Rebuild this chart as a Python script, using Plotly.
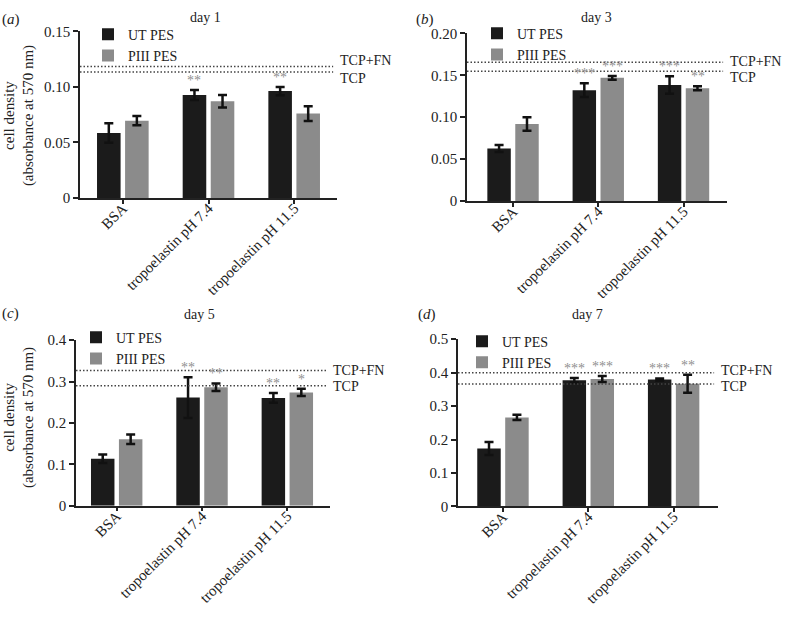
import plotly.graph_objects as go

# ---------------- data ----------------
categories = ["BSA", "tropoelastin pH 7.4", "tropoelastin pH 11.5"]
series_names = ["UT PES", "PIII PES"]
day_titles = ["day 1", "day 3", "day 5", "day 7"]
panel_labels = ["(<i>a</i>)", "(<i>b</i>)", "(<i>c</i>)", "(<i>d</i>)"]

ut_day1 = [0.0585, 0.0927, 0.0962]
ut_err_day1 = [0.0088, 0.0044, 0.0038]
piii_day1 = [0.0696, 0.0871, 0.0760]
piii_err_day1 = [0.0041, 0.0057, 0.0066]

ut_day3 = [0.0627, 0.1323, 0.1385]
ut_err_day3 = [0.0042, 0.0081, 0.0105]
piii_day3 = [0.0920, 0.1470, 0.1346]
piii_err_day3 = [0.0080, 0.0022, 0.0024]

ut_day5 = [0.1137, 0.2612, 0.2604]
ut_err_day5 = [0.0103, 0.0494, 0.0118]
piii_day5 = [0.1608, 0.2863, 0.2737]
piii_err_day5 = [0.0115, 0.0090, 0.0087]

ut_day7 = [0.1730, 0.3770, 0.3797]
ut_err_day7 = [0.0193, 0.0066, 0.0030]
piii_day7 = [0.2660, 0.3807, 0.3670]
piii_err_day7 = [0.0078, 0.0090, 0.0268]

tcp = [0.1134, 0.1547, 0.290, 0.366]
tcp_fn = [0.1184, 0.1655, 0.327, 0.400]

ut_stars = [["", "**", "**"], ["", "***", "***"], ["", "**", "**"], ["", "***", "***"]]
piii_stars = [["", "", ""], ["", "***", "**"], ["", "**", "*"], ["", "***", "**"]]

ytick_vals = [[0, 0.05, 0.10, 0.15], [0, 0.05, 0.10, 0.15, 0.20],
              [0, 0.1, 0.2, 0.3, 0.4], [0, 0.1, 0.2, 0.3, 0.4, 0.5]]
ytick_text = [["0", "0.05", "0.10", "0.15"], ["0", "0.05", "0.10", "0.15", "0.20"],
              ["0", "0.1", "0.2", "0.3", "0.4"], ["0", "0.1", "0.2", "0.3", "0.4", "0.5"]]
y_max = [0.15, 0.20, 0.4, 0.5]

ut_all = [ut_day1, ut_day3, ut_day5, ut_day7]
ut_err_all = [ut_err_day1, ut_err_day3, ut_err_day5, ut_err_day7]
piii_all = [piii_day1, piii_day3, piii_day5, piii_day7]
piii_err_all = [piii_err_day1, piii_err_day3, piii_err_day5, piii_err_day7]

# ---------------- layout geometry ----------------
W, H = 785, 617
FONT = "Liberation Serif, Times New Roman, serif"
UT_COLOR = "#1b1b1b"
PIII_COLOR = "#8b8b8b"
STAR_COLOR = "#8f8f8f"
TEXT_COLOR = "#222222"


def fx(v):
    return v / W


def fy(v):
    return 1 - v / H


# pixel boxes in the target picture: (left, right, top, bottom)
boxes = [(80, 337, 24, 195), (467, 727, 26, 198.3), (76, 330, 341, 511), (458, 718, 340, 511.7)]
x_ranges = [[-0.5, 2.5], [-0.54, 2.51], [-0.477, 2.5], [-0.527, 2.52]]
legend_pos = [(88, 11), (477, 10), (76, 322), (462, 326)]
title_pos = [(205.5, 10), (596.5, 10), (199, 315), (587.5, 315)]
label_pos = [(11, 12), (425, 12), (10, 314), (427, 315)]
ref_label_shift = [(6, -6), (1, -6), (0, -1), (2, -2)]

fig = go.Figure()
annotations = []
shapes = []

for p in range(4):
    sfx = "" if p == 0 else str(p + 1)
    xa, ya = "x" + sfx, "y" + sfx
    leg = "legend" + sfx
    fig.add_trace(go.Bar(
        x=categories, y=ut_all[p], name=series_names[0],
        marker=dict(color=UT_COLOR, line=dict(width=0)),
        error_y=dict(type="data", array=ut_err_all[p], color="#111111", thickness=2.5, width=4.5),
        xaxis=xa, yaxis=ya, legend=leg, offsetgroup="ut"))
    fig.add_trace(go.Bar(
        x=categories, y=piii_all[p], name=series_names[1],
        marker=dict(color=PIII_COLOR, line=dict(width=0)),
        error_y=dict(type="data", array=piii_err_all[p], color="#111111", thickness=2.5, width=4.5),
        xaxis=xa, yaxis=ya, legend=leg, offsetgroup="piii"))

    l, r, t, b = boxes[p]
    fig.update_layout(**{
        "xaxis" + sfx: dict(
            domain=[fx(l), fx(r)], anchor=ya, range=x_ranges[p],
            type="category", categoryorder="array", categoryarray=categories,
            showline=True, linecolor="#222", linewidth=1.5,
            ticks="outside", ticklen=4, tickwidth=1.5, tickcolor="#222",
            tickangle=-45, showgrid=False, zeroline=False,
            ticklabelstandoff=-10,
            tickfont=dict(family=FONT, size=15, color=TEXT_COLOR)),
        "yaxis" + sfx: dict(
            domain=[fy(b), fy(t)], anchor=xa, range=[0, y_max[p]],
            tickvals=ytick_vals[p], ticktext=ytick_text[p],
            showline=True, linecolor="#222", linewidth=1.5,
            ticks="outside", ticklen=5, tickwidth=1.5, tickcolor="#222",
            showgrid=False, zeroline=False,
            tickfont=dict(family=FONT, size=15, color=TEXT_COLOR)),
        leg: dict(
            x=fx(legend_pos[p][0]), y=fy(legend_pos[p][1]),
            xanchor="left", yanchor="top", bgcolor="rgba(0,0,0,0)",
            font=dict(family=FONT, size=14, color=TEXT_COLOR),
            itemwidth=30, tracegroupgap=0, traceorder="normal"),
    })

    # reference lines
    for val in (tcp[p], tcp_fn[p]):
        shapes.append(dict(type="line", xref=xa + " domain", yref=ya,
                           x0=0, x1=0.985, y0=val, y1=val,
                           line=dict(color="#444", width=1.5, dash="1.5px,2px")))
    s_up, s_dn = ref_label_shift[p]
    annotations.append(dict(text="TCP+FN", xref=xa + " domain", yref=ya, x=1, y=tcp_fn[p],
                            xanchor="left", yanchor="middle", xshift=1, yshift=s_up,
                            showarrow=False, font=dict(family=FONT, size=14, color=TEXT_COLOR)))
    annotations.append(dict(text="TCP", xref=xa + " domain", yref=ya, x=1, y=tcp[p],
                            xanchor="left", yanchor="middle", xshift=1, yshift=s_dn,
                            showarrow=False, font=dict(family=FONT, size=14, color=TEXT_COLOR)))

    # significance stars
    for i in range(len(categories)):
        for stars, vals, errs, off in ((ut_stars[p], ut_all[p], ut_err_all[p], -0.164),
                                       (piii_stars[p], piii_all[p], piii_err_all[p], 0.164)):
            if stars[i]:
                annotations.append(dict(text=stars[i], xref=xa, yref=ya, x=i + off,
                                        y=vals[i] + errs[i], xanchor="center", yanchor="bottom",
                                        yshift=0, showarrow=False,
                                        font=dict(family=FONT, size=14, color=STAR_COLOR)))

    # titles and panel labels
    annotations.append(dict(text=day_titles[p], xref="paper", yref="paper",
                            x=fx(title_pos[p][0]), y=fy(title_pos[p][1]),
                            xanchor="center", yanchor="middle", showarrow=False,
                            font=dict(family=FONT, size=14, color=TEXT_COLOR)))
    annotations.append(dict(text=panel_labels[p], xref="paper", yref="paper",
                            x=fx(label_pos[p][0]), y=fy(label_pos[p][1]),
                            xanchor="center", yanchor="middle", showarrow=False,
                            font=dict(family=FONT, size=15, color=TEXT_COLOR)))

# y-axis titles (left panels)
for yc in (111, 421):
    annotations.append(dict(text="cell density<br>(absorbance at 570 nm)", xref="paper", yref="paper",
                            x=fx(19), y=fy(yc), xanchor="center", yanchor="middle",
                            textangle=-90, showarrow=False,
                            font=dict(family=FONT, size=15, color=TEXT_COLOR)))

fig.update_layout(
    width=W, height=H, margin=dict(l=0, r=0, t=0, b=0),
    paper_bgcolor="white", plot_bgcolor="white",
    barmode="group", bargap=0.345, bargroupgap=0.16,
    annotations=annotations, shapes=shapes, showlegend=True,
)

fig.write_html("out.html", config={"displayModeBar": False},
               post_script="document.body.style.margin='0px';")
